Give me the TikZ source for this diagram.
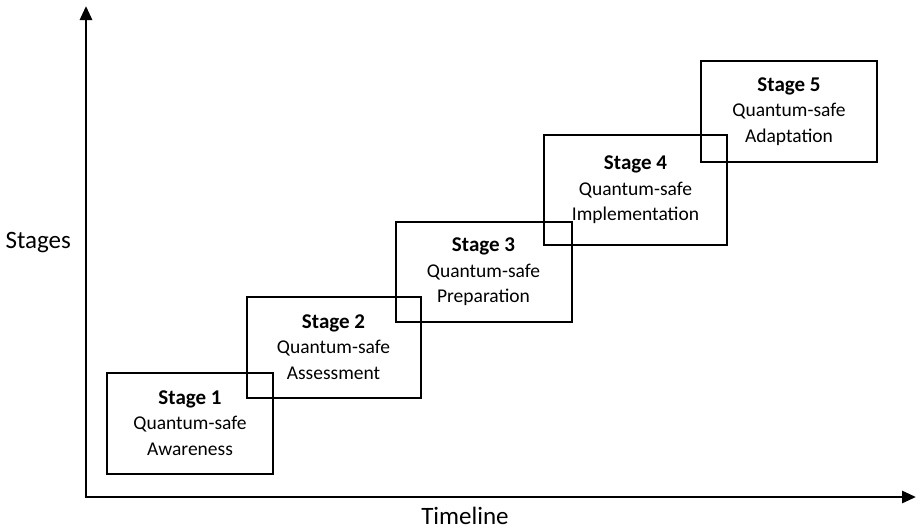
\documentclass[tikz,border=0pt]{standalone}
\usepackage{fontspec}
\setmainfont{Carlito}
\usetikzlibrary{arrows.meta}
\newcommand{\stagehead}[1]{{\fontsize{21}{25.5}\selectfont\bfseries #1}}
\begin{document}
\begin{tikzpicture}[x=1pt,y=-1pt,
  stagebox/.style={draw=black,line width=2pt,inner sep=0pt,align=center,
    font=\fontsize{19.5}{25.5}\selectfont},
  axis/.style={line width=2.8pt,-{Triangle[length=14pt,width=12pt]}},
  axislabel/.style={font=\fontsize{25}{28}\selectfont}]
\useasboundingbox (0,0) rectangle (916,531);
% stage boxes, drawn as rectangles with text centred inside
\node[stagebox,minimum width=166pt,minimum height=101pt] (s1) at (190,423)
  {\stagehead{Stage 1}\\Quantum-safe\\Awareness};
\node[stagebox,minimum width=174pt,minimum height=101pt] (s2) at (333.5,347)
  {\stagehead{Stage 2}\\Quantum-safe\\Assessment};
\node[stagebox,minimum width=176pt,minimum height=100pt] (s3) at (483.5,272)
  {\stagehead{Stage 3}\\Quantum-safe\\Preparation};
\node[stagebox,minimum width=183pt,minimum height=110pt] (s4) at (635.5,190)
  {\stagehead{Stage 4}\\Quantum-safe\\Implementation};
\node[stagebox,minimum width=176pt,minimum height=101pt] (s5) at (789,111.5)
  {\stagehead{Stage 5}\\Quantum-safe\\Adaptation};
% axes
\coordinate (origin) at (86,497);
\coordinate (ytip) at (86,6);
\coordinate (xtip) at (916,497);
\draw[axis] (origin) -- (ytip);
\draw[axis] ([xshift=-1.4pt]origin) -- (xtip);
\node[axislabel,anchor=west] (ylab) at (2,243) {Stages};
\node[axislabel] (xlab) at (465,516) {Timeline};
\end{tikzpicture}
\end{document}
